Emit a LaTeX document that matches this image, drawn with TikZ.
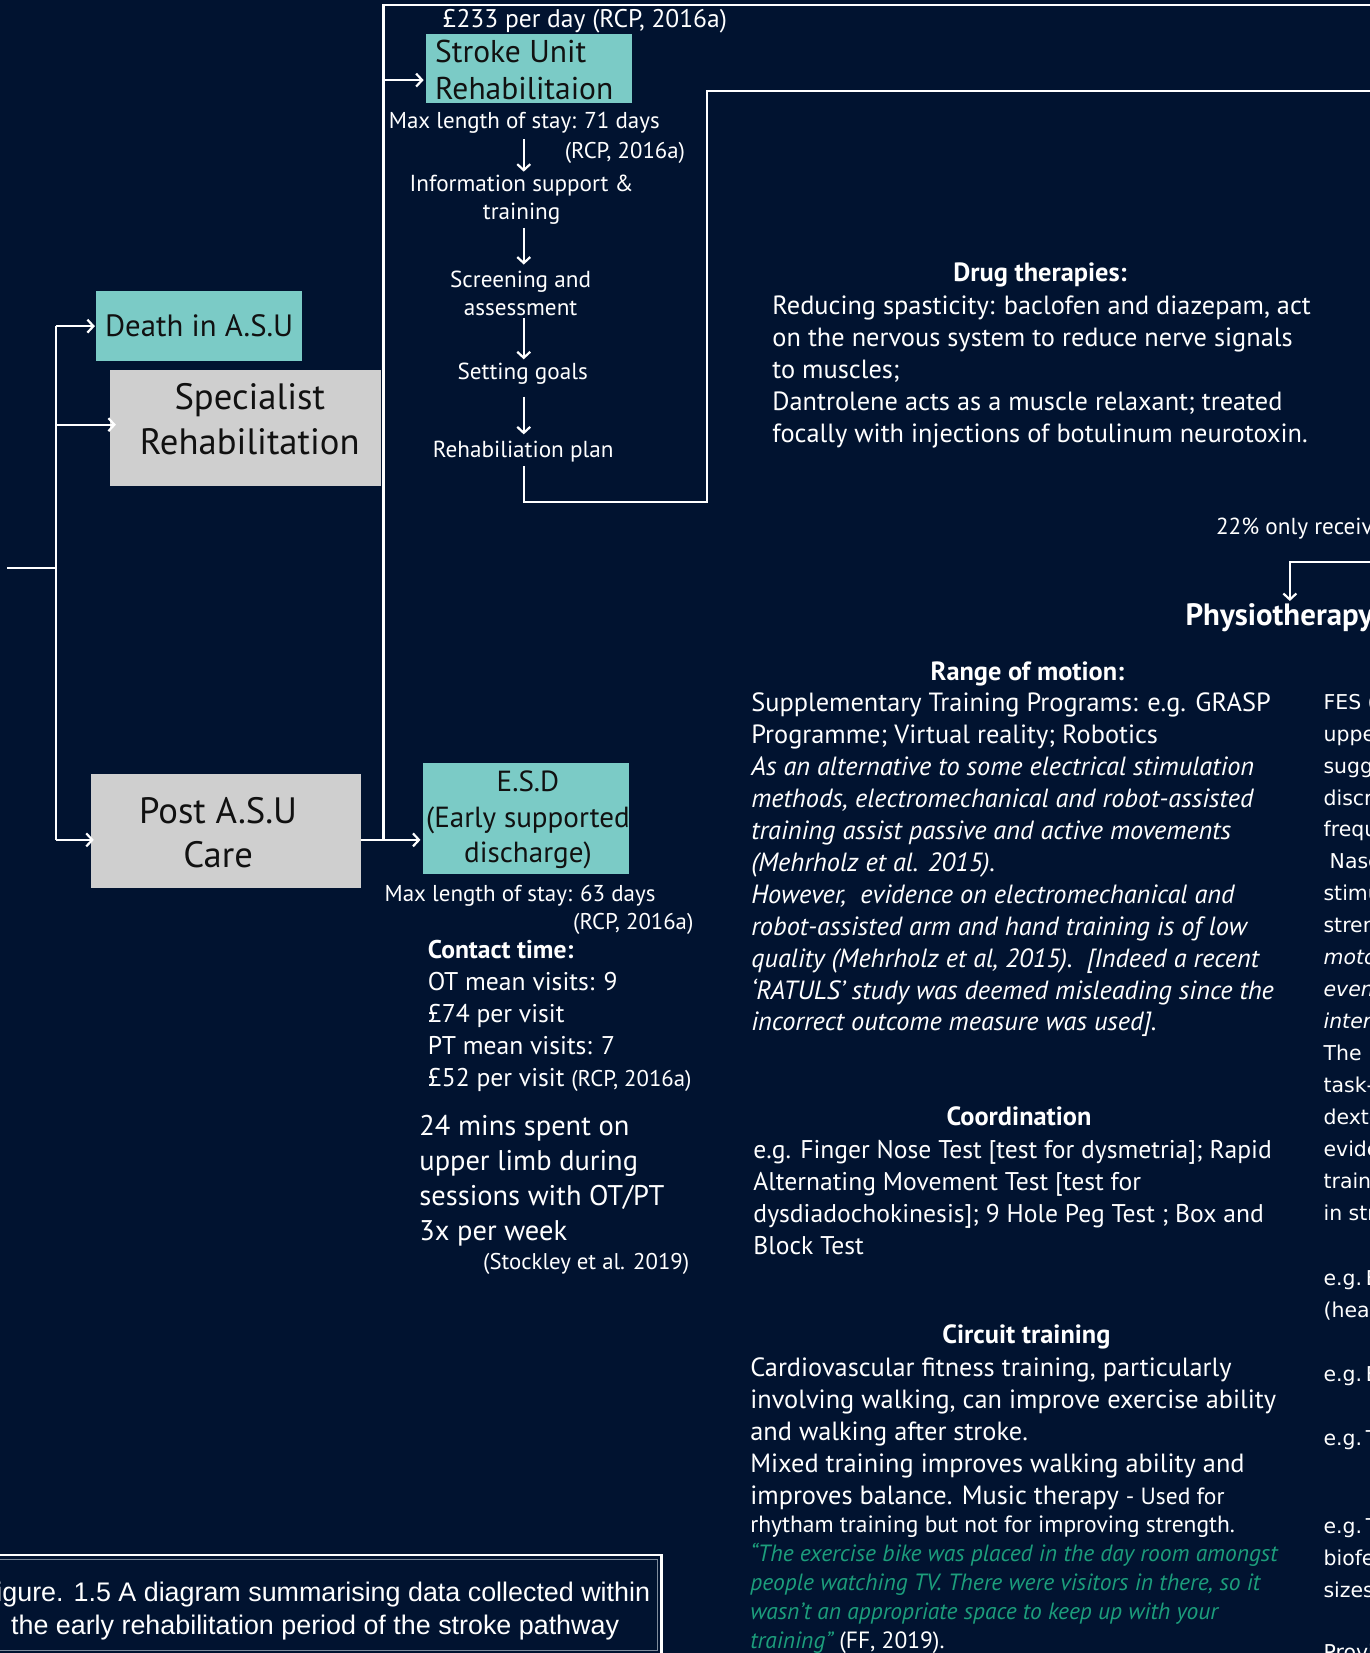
\documentclass[tikz,border=0pt]{standalone}
\usepackage{fontspec}
\setmainfont{PT Sans}
\newfontfamily\vfont{DejaVu Sans}
\newfontfamily\capfont{Liberation Sans}
\usetikzlibrary{arrows.meta,calc}
\definecolor{navy}{HTML}{011330}
\definecolor{tealfill}{HTML}{7BCBC6}
\definecolor{boxgray}{HTML}{CFCFCF}
\definecolor{ink}{HTML}{111111}
\definecolor{quote}{HTML}{1C9E7C}
\definecolor{frameline}{HTML}{7F8C9C}
\newdimen\unitpx \unitpx=1.05385pt
% font size and leading given in drawing units
\newcommand\fsz[2]{\fontsize{\the\dimexpr #1\unitpx\relax}{\the\dimexpr #2\unitpx\relax}\selectfont}
\newcommand\eg{e.g.\hspace{0.18em}}
\begin{document}
% multi-line nodes are placed by the baseline of their last line
\begin{tikzpicture}[x=1.05385pt, y=-1.05385pt,
  every node/.style={inner sep=0pt, outer sep=0pt},
  wt/.style={text=white},
  conn/.style={draw=white, line width=2.2pt},
  arr/.style={conn, -{Straight Barb[length=6pt, width=13pt]}},
  tealbox/.style={fill=tealfill, text=ink},
  graybox/.style={fill=boxgray},
  boxtext/.style={text=ink, align=center},
  flow/.style={wt, align=center, font=\fsz{22}{27}},
  body/.style={wt, align=left, font=\fsz{25}{30.3}},
  head/.style={wt, font=\bfseries\fsz{25}{30.3}},
  side/.style={wt, align=left, font=\vfont\fsz{19.4}{30.3}},
]
\useasboundingbox (0,0) rectangle (1300,1568.6);
\fill[navy] (0,0) rectangle (1300,1568.6);
\clip (0,0) rectangle (1300,1568.6);

% ---- boxes ----
\node[tealbox, minimum width=196*1.05385pt, minimum height=67*1.05385pt, font=\fsz{29.2}{34}] (death) at (189,309.5) {Death in A.S.U};
\node[graybox, minimum width=258*1.05385pt, minimum height=110*1.05385pt] (spec) at (233,406) {};
\node[boxtext, anchor=base, font=\fsz{34.8}{42}] (spectext) at (237,431) {Specialist\\Rehabilitation};
\node[graybox, minimum width=257*1.05385pt, minimum height=109*1.05385pt] (post) at (214.5,788.5) {};
\node[boxtext, anchor=base, font=\fsz{34.8}{42}] (posttext) at (207,823) {Post A.S.U\\Care};
\node[tealbox, minimum width=196*1.05385pt, minimum height=66*1.05385pt] (stroke) at (502,65) {};
\node[text=ink, align=left, anchor=base west, font=\fsz{29.9}{35}] (stroketext) at (413,94) {Stroke Unit\\Rehabilitaion};
\node[tealbox, minimum width=196*1.05385pt, minimum height=105*1.05385pt] (esd) at (499,776.5) {};
\node[boxtext, anchor=base, font=\fsz{27.6}{33.5}] (esdtext) at (501,818.5) {E.S.D\\(Early supported\\discharge)};

% ---- stroke unit pathway ----
\node[wt, anchor=base west, font=\fsz{24.2}{28}] (cost) at (420,26) {£233 per day (RCP, 2016a)};
\node[wt, anchor=base west, font=\fsz{21.8}{27}] (maxstay) at (369,122.4) {Max length of stay: 71 days};
\node[wt, anchor=base east, font=\fsz{21.6}{27}] (rcpa) at (650,150.3) {(RCP, 2016a)};
\node[flow, anchor=base] (info) at (495,208.4) {Information support \&\\training};
\node[flow, anchor=base] (screen) at (494,299.4) {Screening and\\assessment};
\node[flow, anchor=base] (goals) at (496,360.4) {Setting goals};
\node[flow, anchor=base] (plan) at (496.5,434.4) {Rehabiliation plan};

% ---- early supported discharge ----
\node[wt, anchor=base west, font=\fsz{21.8}{27}] (maxstay2) at (365,855.4) {Max length of stay: 63 days};
\node[wt, anchor=base east, font=\fsz{21.6}{27}] (rcpb) at (658,882.4) {(RCP, 2016a)};
\node[body, anchor=base west, font=\fsz{24.3}{30.4}] (contact) at (406,1031) {\textbf{Contact time:}\\OT mean visits: 9\\£74 per visit\\PT mean visits: 7\\£52 per visit {\fsz{21.6}{27}(RCP, 2016a)}};
\node[wt, align=left, anchor=base west, font=\fsz{27}{33.3}] (upper) at (398,1177.2) {24 mins spent on\\upper limb during\\sessions with OT/PT\\3x per week};
\node[wt, anchor=base east, font=\fsz{21.6}{27}] (stockley) at (654,1204.3) {(Stockley et al. 2019)};

% ---- drug therapies ----
\node[head, anchor=base] (drughead) at (987,267.3) {Drug therapies:};
\node[body, anchor=base west] (drug) at (733,419.5) {Reducing spasticity: baclofen and diazepam, act\\on the nervous system to reduce nerve signals\\to muscles;\\Dantrolene acts as a muscle relaxant; treated\\focally with injections of botulinum neurotoxin.};

% ---- physiotherapy ----
\node[wt, anchor=base west, font=\fsz{22}{27}] (share) at (1154,507.3) {22\% only received};
\node[wt, anchor=base west, font=\bfseries\fsz{29.3}{35}] (physio) at (1125,594) {Physiotherapy};

\node[head, anchor=base] (romhead) at (975,645.3) {Range of motion:};
\node[body, anchor=base west] (rom) at (713,978.3) {Supplementary Training Programs: e.g. GRASP\\Programme; Virtual reality; Robotics\\\textit{As an alternative to some electrical stimulation}\\\textit{methods, electromechanical and robot-assisted}\\\textit{training assist passive and active movements}\\\textit{(Mehrholz et al. 2015).}\\\textit{However,\ \ evidence on electromechanical and}\\\textit{robot-assisted arm and hand training is of low}\\\textit{quality (Mehrholz et al, 2015).\ \ [Indeed a recent}\\\textit{‘RATULS’ study was deemed misleading since the}\\\textit{incorrect outcome measure was used].}};

\node[head, anchor=base] (coordhead) at (967,1068.3) {Coordination};
\node[body, anchor=base west, font=\fsz{24.3}{30.3}] (coord) at (715,1190.2) {e.g. Finger Nose Test [test for dysmetria]; Rapid\\Alternating Movement Test [test for\\dysdiadochokinesis]; 9 Hole Peg Test ; Box and\\Block Test};

\node[head, anchor=base] (circhead) at (974,1275.3) {Circuit training};
\node[body, anchor=base west] (circ) at (712,1427.5) {Cardiovascular fitness training, particularly\\involving walking, can improve exercise ability\\and walking after stroke.\\Mixed training improves walking ability and\\improves balance. Music therapy {\fsz{22.3}{27}- Used for}};
\node[wt, anchor=base west, font=\fsz{22.3}{27}] (rhythm) at (712,1454.3) {rhytham training but not for improving strength.};
\node[align=left, anchor=base west, text=quote, font=\itshape\fsz{22.3}{27.5}] (quote) at (712,1564.5) {“The exercise bike was placed in the day room amongst\\people watching TV. There were visitors in there, so it\\wasn’t an appropriate space to keep up with your\\training”\textcolor{white}{\upshape\ (FF, 2019).}};

% ---- right-hand column ----
\node[side, anchor=base west] (fes) at (1256,1157.8) {FES (functional\\upper limb\\suggests\\discrete\\frequency\\\hspace*{0.3em}Nascimento\\stimulation\\strength\\\textit{motor}\\\textit{even}\\\textit{intervention}\\The\\task-specific\\dexterity\\evidence\\training\\in stroke};
\node[side, anchor=base west] (side2) at (1256,1250.3) {\eg Box and\\(head};
\node[side, anchor=base west] (side3) at (1256,1311) {\eg Box};
\node[side, anchor=base west] (side4) at (1256,1372) {\eg Task};
\node[side, anchor=base west] (side5) at (1256,1515.6) {\eg Task\\biofeedback\\sizes};
\node[side, anchor=base west] (side6) at (1256,1575) {Provision};

% ---- caption frame ----
\draw[white, line width=2.6pt] (-10,1475.5) rectangle (627.5,1600);
\draw[frameline, line width=0.9pt] (-10,1479.5) rectangle (623.5,1566.4);
\node[wt, align=center, anchor=base, font=\capfont\fsz{25.5}{31}] (caption) at (299,1551) {Figure. 1.5 A diagram summarising data collected within\\the early rehabilitation period of the stroke pathway};

% ---- connectors ----
\coordinate (stub) at (7,539);
\coordinate (trunk) at (53,539);
\coordinate (fx) at (497,0);
\coordinate (specin) at ($(spec.west)+(6,-3)$);
\coordinate (postin) at ($(post.west)+(3,8.5)$);
\coordinate (esdin) at ($(esd.west)+(-2,20.5)$);
\coordinate (strokein) at ($(stroke.west)+(-2,11)$);
\coordinate (spine) at (364,5);
\coordinate (topend) at (1310,5);
\coordinate (bend) at (671,476);
\coordinate (rightend) at (1310,86);
\coordinate (pin) at (1310,533);
\coordinate (ptip) at (1224,567);

\draw[conn] (stub) -- (trunk);
\draw[conn] (death.west -| trunk) -- (postin -| trunk);
\draw[arr] (death.west -| trunk) -- ([xshift=-1pt]death.west);
\draw[arr] (specin -| trunk) -- (specin);
\draw[arr] (postin -| trunk) -- (postin);
\draw[arr] (postin -| post.east) -- (esdin);
\draw[conn] (esdin -| spine) -- (spine) -- (topend);
\draw[arr] (strokein -| spine) -- (strokein);

\draw[arr, shorten <=5pt, shorten >=3pt] (maxstay.south -| fx) -- (info.north -| fx);
\draw[arr, shorten <=3pt, shorten >=6pt] (info.south -| fx) -- (screen.north -| fx);
\draw[arr, shorten <=2pt, shorten >=4pt] (screen.south -| fx) -- (goals.north -| fx);
\draw[arr, shorten <=12pt, shorten >=7pt] (goals.south -| fx) -- (plan.north -| fx);
\draw[conn, shorten <=4pt] (plan.south -| fx) -- (bend -| fx) -- (bend) -- (rightend -| bend) -- (rightend);

\draw[arr, shorten >=3pt] (pin) -| (ptip |- physio.north);
\end{tikzpicture}
\end{document}
